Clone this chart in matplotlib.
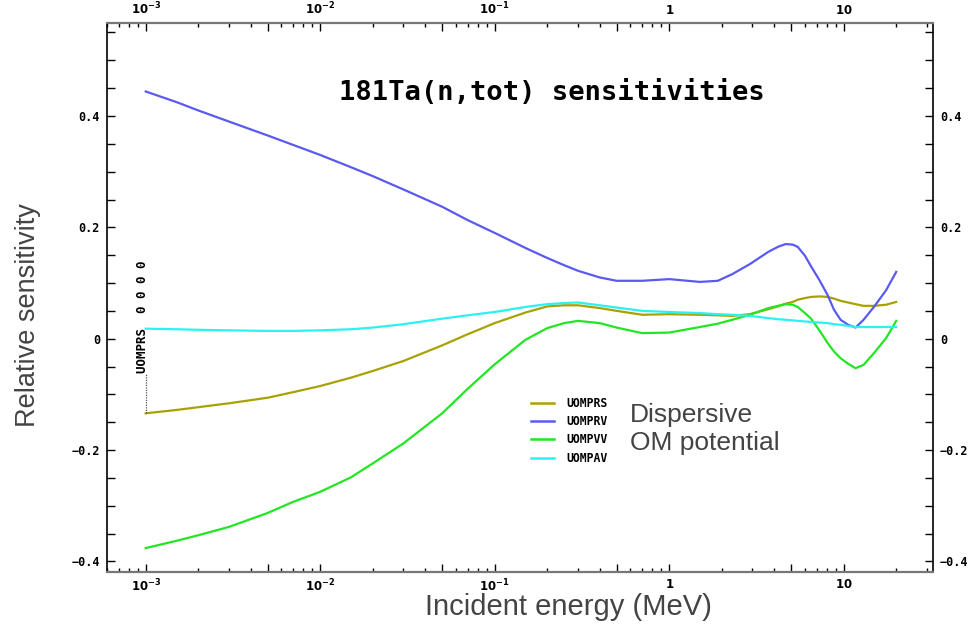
import matplotlib.pyplot as plt
import numpy as np
from matplotlib.ticker import MultipleLocator, NullFormatter, FixedLocator

# incident energies (MeV) shared by the four sensitivity profiles
energy = [1e-3, 1.5e-3, 2e-3, 3e-3, 5e-3, 7e-3, 1e-2, 1.5e-2, 2e-2, 3e-2,
          5e-2, 7e-2, 0.1, 0.15, 0.2, 0.25, 0.3, 0.4, 0.5, 0.7, 1.0, 1.5,
          1.9, 2.3, 2.9, 3.7, 4.2, 4.65, 5.1, 5.45, 6.0, 6.5, 7.3, 8.1, 8.8,
          9.6, 10.6, 11.7, 13.0, 14.9, 17.5, 20.0]

uomprs = [-0.134, -0.128, -0.123, -0.116, -0.106, -0.096, -0.085, -0.070,
          -0.058, -0.040, -0.012, 0.008, 0.028, 0.047, 0.058, 0.060, 0.060,
          0.055, 0.050, 0.043, 0.044, 0.043, 0.042, 0.041, 0.044, 0.053,
          0.058, 0.063, 0.066, 0.070, 0.073, 0.075, 0.076, 0.075, 0.072,
          0.068, 0.065, 0.062, 0.059, 0.059, 0.061, 0.066]
uomprv = [0.444, 0.425, 0.410, 0.390, 0.365, 0.348, 0.330, 0.308, 0.292,
          0.268, 0.237, 0.213, 0.190, 0.163, 0.145, 0.132, 0.122, 0.110,
          0.104, 0.104, 0.107, 0.102, 0.104, 0.116, 0.134, 0.156, 0.165,
          0.170, 0.169, 0.165, 0.149, 0.130, 0.104, 0.078, 0.052, 0.034,
          0.025, 0.020, 0.034, 0.057, 0.087, 0.120]
uompvv = [-0.376, -0.363, -0.353, -0.338, -0.313, -0.293, -0.275, -0.249,
          -0.224, -0.188, -0.134, -0.090, -0.046, -0.002, 0.019, 0.028, 0.032,
          0.028, 0.020, 0.010, 0.011, 0.021, 0.027, 0.034, 0.043, 0.055,
          0.059, 0.062, 0.061, 0.057, 0.046, 0.036, 0.014, -0.008, -0.023,
          -0.035, -0.045, -0.053, -0.047, -0.026, 0.001, 0.032]
uompav = [0.018, 0.017, 0.016, 0.015, 0.014, 0.014, 0.015, 0.017, 0.020,
          0.026, 0.036, 0.042, 0.048, 0.057, 0.062, 0.064, 0.065, 0.060,
          0.056, 0.050, 0.048, 0.046, 0.044, 0.043, 0.041, 0.037, 0.035,
          0.034, 0.033, 0.032, 0.031, 0.030, 0.029, 0.028, 0.026, 0.025,
          0.023, 0.021, 0.021, 0.021, 0.021, 0.021]

series = ["UOMPRS", "UOMPRV", "UOMPVV", "UOMPAV"]
colors = ["#a8a200", "#5a5af2", "#22e622", "#2af2f2"]

x_major = [1e-3, 1e-2, 1e-1, 1, 10]
x_major_labels = [r"$\mathbf{10^{-3}}$", r"$\mathbf{10^{-2}}$",
                  r"$\mathbf{10^{-1}}$", r"$\mathbf{1}$", r"$\mathbf{10}$"]
y_major = [-0.4, -0.2, 0, 0.2, 0.4]
y_major_labels = ["\u22120.4", "\u22120.2", "0", "0.2", "0.4"]

MONO = "DejaVu Sans Mono"
SANS = "Liberation Sans"


def main():
    fig = plt.figure(figsize=(9.8, 6.25), dpi=100)
    ax = fig.add_axes([107 / 980, 1 - 572 / 625, 826 / 980, 549 / 625])

    for vals, name, c in zip([uomprs, uomprv, uompvv, uompav], series, colors):
        ax.plot(energy, vals, color=c, lw=1.6, label=name)

    ax.set_xscale("log")
    ax.set_xlim(6e-4, 32.5)
    ax.set_ylim(-0.419, 0.567)

    # decade ticks carry labels, 5x ticks are long but unlabeled
    fives = [5 * v for v in x_major]
    ax.xaxis.set_major_locator(FixedLocator(x_major + fives))
    ax.set_xticklabels(x_major_labels + [""] * len(fives))
    ax.xaxis.set_minor_locator(FixedLocator(
        [m * 10.0 ** d for d in range(-4, 2) for m in (2, 3, 4, 6, 7, 8, 9)]))
    ax.xaxis.set_minor_formatter(NullFormatter())
    ax.set_yticks(y_major)
    ax.set_yticklabels(y_major_labels)
    ax.yaxis.set_minor_locator(MultipleLocator(0.05))

    ax.tick_params(axis="both", which="both", direction="in", colors="black",
                   top=True, right=True, labeltop=True, labelright=True)
    ax.tick_params(axis="x", which="major", length=6, width=1, pad=4)
    ax.tick_params(axis="x", which="minor", length=3, width=1)
    ax.tick_params(axis="y", which="both", length=5.5, width=1, pad=5)
    for lab in ax.get_xticklabels() + ax.get_yticklabels():
        lab.set_fontfamily(MONO)
        lab.set_fontweight("bold")
        lab.set_fontsize(8.5)
    for t in ax.yaxis.get_majorticklabels():
        t.set_fontfamily(MONO)
        t.set_fontweight("bold")

    for side in ("top", "bottom"):
        ax.spines[side].set_color("#777777")
        ax.spines[side].set_linewidth(1.6)
    for side in ("left", "right"):
        ax.spines[side].set_color("black")
        ax.spines[side].set_linewidth(1.2)

    # title inside the frame
    ax.text(0.538, 0.873, "181Ta(n,tot) sensitivities", transform=ax.transAxes,
            ha="center", va="center", family=MONO, fontweight="bold",
            fontsize=19.5)

    # marker annotation at the first point of UOMPRS
    ax.plot([energy[0], energy[0]], [uomprs[0], -0.061], color="#555555",
            lw=0.9, ls=(0, (1, 1)))
    ax.text(9.55e-4, -0.062, "UOMPRS  0 0 0 0", rotation=90, ha="center",
            va="bottom", family=MONO, fontweight="bold", fontsize=9)

    leg = ax.legend(loc="upper left", bbox_to_anchor=(531 / 980, 1 - 397 / 625),
                    bbox_transform=fig.transFigure, frameon=False,
                    prop={"family": MONO, "weight": "bold", "size": 8.3},
                    handlelength=2.0, handletextpad=1.1, labelspacing=0.45,
                    borderpad=0, borderaxespad=0)
    for line in leg.get_lines():
        line.set_linewidth(1.8)

    fig.text(630 / 980, 1 - 415 / 625, "Dispersive", family=SANS, fontsize=19,
             color="#444444", ha="left", va="center")
    fig.text(630 / 980, 1 - 443 / 625, "OM potential", family=SANS, fontsize=19,
             color="#444444", ha="left", va="center")

    fig.text(568 / 980, 1 - 607 / 625, "Incident energy (MeV)", family=SANS,
             fontsize=21, color="#444444", ha="center", va="center")
    fig.text(28 / 980, 1 - 315 / 625, "Relative sensitivity", family=SANS,
             fontsize=19.5, color="#444444", ha="center", va="center",
             rotation=90)

    fig.savefig("out.png", dpi=100)


if __name__ == '__main__':
    main()
